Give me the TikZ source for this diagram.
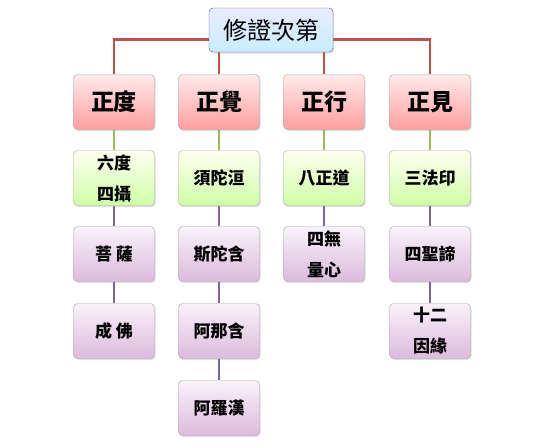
\documentclass[tikz,border=0pt]{standalone}
\usepackage{fontspec}
\newfontfamily\cjk{Noto Sans CJK TC}
\usetikzlibrary{shadows,backgrounds}
\definecolor{redline}{HTML}{C0504D}
\definecolor{greenline}{HTML}{9BBB59}
\definecolor{purpleline}{HTML}{8064A2}
\begin{document}
\begin{tikzpicture}[x=1pt,y=-1pt,
  box/.style={draw=gray!70,rounded corners=4pt,minimum width=81pt,minimum height=55pt,
    align=center,font=\cjk\bfseries\fontsize{17}{31}\selectfont,
    drop shadow={opacity=0.25,shadow xshift=1pt,shadow yshift=-1.5pt}},
  topbox/.style={box,minimum width=124pt,minimum height=44pt,font=\cjk\fontsize{24}{28}\selectfont,
    top color=blue!8,bottom color=blue!30!cyan!22,draw=blue!30!gray},
  redbox/.style={box,font=\cjk\bfseries\fontsize{23}{26}\selectfont,top color=red!8,bottom color=red!38},
  greenbox/.style={box,top color=yellow!6,bottom color=green!55!yellow!35},
  purplebox/.style={box,top color=violet!5,bottom color=violet!27},
  redlink/.style={redline,line width=2.6pt},
  greenlink/.style={greenline,line width=2.6pt},
  purplelink/.style={purpleline,line width=2.6pt}]
  \useasboundingbox (0,0) rectangle (542,448);
  % levels
  \node[topbox] (top) at (271,30) {修證次第};
  \node[redbox] (z1) at (114,102) {正度};
  \node[redbox] (z2) at (219,102) {正覺};
  \node[redbox] (z3) at (324,102) {正行};
  \node[redbox] (z4) at (430,102) {正見};
  \node[greenbox] (g1) at (114,178) {六度\\四攝};
  \node[greenbox] (g2) at (219,178) {須陀洹};
  \node[greenbox] (g3) at (324,178) {八正道};
  \node[greenbox] (g4) at (430,178) {三法印};
  \node[purplebox] (p1) at (114,254) {菩 薩};
  \node[purplebox] (q1) at (114,331) {成 佛};
  \node[purplebox] (p2) at (219,254) {斯陀含};
  \node[purplebox] (q2) at (219,331) {阿那含};
  \node[purplebox] (r2) at (219,408) {阿羅漢};
  \node[purplebox] (p3) at (324,254) {四無\\量心};
  \node[purplebox] (p4) at (430,254) {四聖諦};
  \node[purplebox] (q4) at (430,331) {十二\\因緣};
  % links
  \begin{scope}[on background layer]
  \foreach \c in {z1,z2,z3,z4}
    \draw[redlink] (top.south) -- +(0,-13) -| (\c.north);
  \foreach \a/\b in {z1/g1,z2/g2,z3/g3,z4/g4}
    \draw[greenlink] (\a.south) -- (\b.north);
  \foreach \a/\b in {g1/p1,p1/q1,g2/p2,p2/q2,q2/r2,g3/p3,g4/p4,p4/q4}
    \draw[purplelink] (\a.south) -- (\b.north);
  \end{scope}
\end{tikzpicture}
\end{document}
